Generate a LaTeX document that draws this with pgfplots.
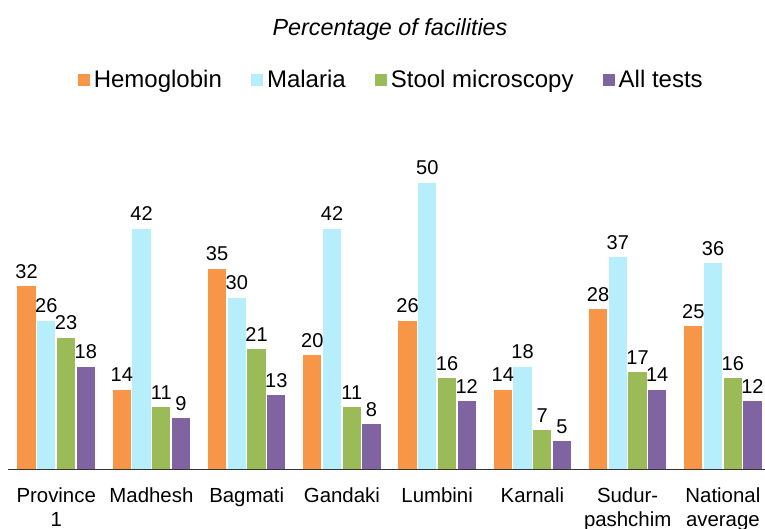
\documentclass[border=0pt]{standalone}
\usepackage{fontspec}
\setmainfont{Liberation Sans}
\usepackage{pgfplots}
\pgfplotsset{compat=1.18}
\definecolor{cHem}{HTML}{F79646}
\definecolor{cMal}{HTML}{B7EEFC}
\definecolor{cSto}{HTML}{9BBB59}
\definecolor{cAll}{HTML}{8064A2}
\begin{document}
\begin{tikzpicture}
\path[use as bounding box] (-6pt,-44.6pt) rectangle (567.75pt,352.1pt);
\begin{axis}[
  at={(0,0)}, anchor=south west,
  scale only axis, width=567.75pt, height=237.2pt,
  xmin=-0.506, xmax=7.442, ymin=0, ymax=55,
  axis x line=bottom, axis y line=none,
  axis on top,
  x axis line style={-, line width=1.1pt, color=black!80},
  xtick={0,...,7},
  xticklabels={Province\\1, Madhesh, Bagmati, Gandaki, Lumbini, Karnali, Sudur-\\pashchim, National\\average},
  xticklabel style={align=center, font=\fontsize{15.3}{17.6}\selectfont, yshift=-10.5pt},
  major tick length=0pt,
  ytick=\empty,
  ybar, bar width=0.207,
  nodes near coords,
  nodes near coords style={font=\fontsize{15}{17}\selectfont, text=black, yshift=1.5pt},
  /pgf/number format/assume math mode=true,
  every axis plot/.append style={draw=white, line width=1.1pt},
  legend style={at={(0.506,1.2316)}, anchor=center, legend columns=-1, draw=none, fill=none,
    font=\fontsize{18}{21}\selectfont, nodes={inner sep=2pt},
    /tikz/every even column/.append style={column sep=19pt}},
  legend image code/.code={\fill[#1] (0pt,-4.9pt) rectangle (9.75pt,4.85pt);},
  clip=false,
]
\addplot[fill=cHem, bar shift=-0.3105] coordinates {(0,32) (1,14) (2,35) (3,20) (4,26) (5,14) (6,28) (7,25)};
\addplot[fill=cMal, bar shift=-0.1035] coordinates {(0,26) (1,42) (2,30) (3,42) (4,50) (5,18) (6,37) (7,36)};
\addplot[fill=cSto, bar shift=0.1035] coordinates {(0,23) (1,11) (2,21) (3,11) (4,16) (5,7) (6,17) (7,16)};
\addplot[fill=cAll, bar shift=0.3105] coordinates {(0,18) (1,9) (2,13) (3,8) (4,12) (5,5) (6,14) (7,12)};
\legend{Hemoglobin, Malaria, Stool microscopy, All tests}
\end{axis}
\node[font=\fontsize{17.5}{20}\selectfont\itshape] at (286.5pt,329.8pt) {Percentage of facilities};
\end{tikzpicture}
\end{document}
